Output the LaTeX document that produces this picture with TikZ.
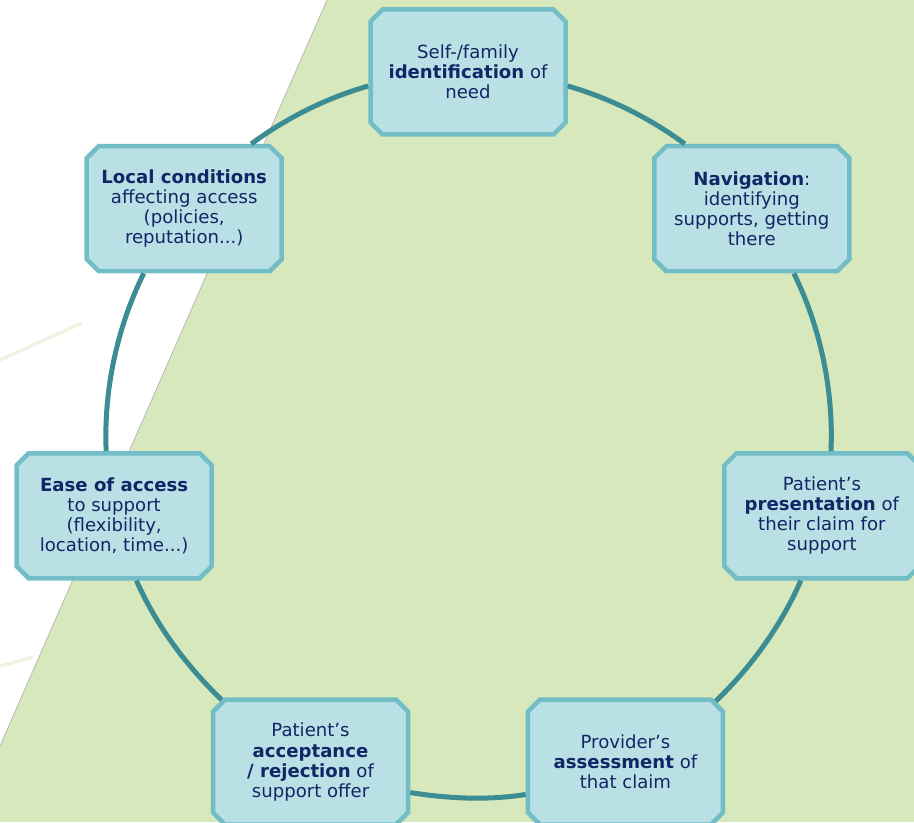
\documentclass[tikz,border=0pt]{standalone}
\usepackage{fontspec}
\setmainfont{DejaVu Sans}
\usetikzlibrary{shapes.misc}

\definecolor{bggreen}{HTML}{D6E8BC}
\definecolor{brushgreen}{HTML}{EDF5E2}
\definecolor{boxfill}{HTML}{B9E0E4}
\definecolor{boxedge}{HTML}{73BEC6}
\definecolor{linkteal}{HTML}{3C8C94}
\definecolor{navytext}{HTML}{102666}

\begin{document}
\begin{tikzpicture}[
    stage/.style={chamfered rectangle, chamfered rectangle xsep=0.12cm,
                  chamfered rectangle ysep=0.12cm, draw=boxedge,
                  line width=0.09cm, fill=boxfill, minimum width=3.9cm,
                  minimum height=2.5cm, align=center, text=navytext,
                  inner sep=1pt, font=\fontsize{10.3}{11.4}\selectfont},
    link/.style={draw=linkteal, line width=0.1cm, looseness=0.85}
  ]
  \useasboundingbox (0,0) rectangle (18.28,16.44);
  \clip (0,0) rectangle (18.28,16.44);

  % background
  \fill[bggreen] (6.54,16.44) -- (18.28,16.44) -- (18.28,0) -- (0,0)
    -- (0,1.52) -- cycle;
  \draw[gray!60, line width=0.4pt] (6.54,16.44) -- (0,1.52);
  \draw[brushgreen, line width=0.07cm] (0,9.24) -- (1.64,9.98);
  \draw[brushgreen, line width=0.07cm] (0,3.12) -- (0.66,3.3);

  \coordinate (c) at (9.36,7.74);

  \node[stage] (ident) at ([shift={(90:7.26)}]c)
    {Self-/family\\ \textbf{identification} of\\ need};
  \node[stage] (nav) at ([shift={(38.57:7.26)}]c)
    {\textbf{Navigation}:\\ identifying\\ supports, getting\\ there};
  \node[stage] (present) at ([shift={(-12.86:7.26)}]c)
    {Patient’s\\ \textbf{presentation} of\\ their claim for\\ support};
  \node[stage] (assess) at ([shift={(-64.29:7.26)}]c)
    {Provider’s\\ \textbf{assessment} of\\ that claim};
  \node[stage] (accept) at ([shift={(-115.71:7.26)}]c)
    {Patient’s\\ \textbf{acceptance}\\ \textbf{/ rejection} of\\ support offer};
  \node[stage] (ease) at ([shift={(-167.14:7.26)}]c)
    {\textbf{Ease of access}\\ to support\\ (flexibility,\\ location, time...)};
  \node[stage] (local) at ([shift={(141.43:7.26)}]c)
    {\textbf{Local conditions}\\ affecting access\\ (policies,\\ reputation...)};

  % the cycle, clockwise
  \draw[link] (ident.-8) to[out=-16, in=143.4] (nav.136);
  \draw[link] (nav.-57.5) to[out=-63.6, in=87.5] (present.82.3);
  \draw[link] (present.-108.3) to[out=-113.7, in=43.8] (assess.34.7);
  \draw[link] (assess.-162.6) to[out=-170.9, in=-9.1] (accept.-17.4);
  \draw[link] (accept.145.3) to[out=136.2, in=-66.3] (ease.-71.7);
  \draw[link] (ease.97.7) to[out=92.5, in=-116.4] (local.-122.5);
  \draw[link] (local.44) to[out=36.6, in=-164] (ident.188);
\end{tikzpicture}
\end{document}
